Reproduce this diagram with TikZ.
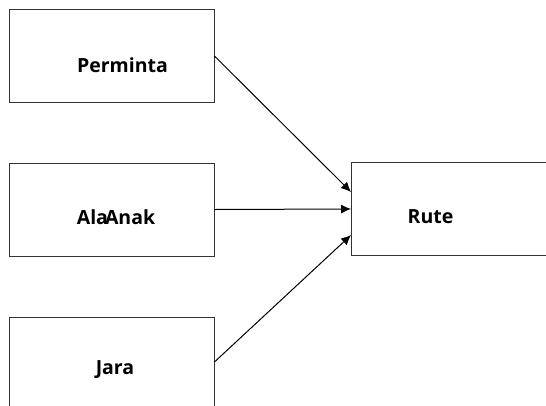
\documentclass[tikz,border=0pt]{standalone}
\usepackage{fontspec}
\setmainfont{Open Sans}
\usetikzlibrary{calc,arrows.meta}
\begin{document}
\begin{tikzpicture}[x=1pt,y=-1pt,
  box/.style={draw=black!80,line width=0.9pt,minimum width=205pt,minimum height=93pt,inner sep=0pt},
  lbl/.style={font=\fontsize{19.5}{22}\selectfont\bfseries,inner sep=0pt},
  conn/.style={draw=black,line width=1pt,-{Latex[length=10pt,width=9pt]}}]
\useasboundingbox (0,0) rectangle (546,405);
\clip (0,0) rectangle (546,405);
\node[box] (perm) at (111.5,56) {};
\node[box] (ala) at (111.5,209.5) {};
\node[box] (jara) at (111.5,364) {};
\node[box] (rute) at (454,209) {};
\node[lbl] (tperm) at (122.5,65) {Perminta};
\node[lbl] (tala) at (116,217) {Ala\kern-3pt Anak};
\node[lbl] (tjara) at (115,370) {Jara};
\node[lbl] (trute) at (430.5,217) {Rute};
\draw[conn] (perm.east) -- ($(rute.west)+(0,-17)$);
\draw[conn] (ala.east) -- (rute.west);
\draw[conn] ($(jara.east)+(0,-2)$) -- ($(rute.west)+(0,26)$);
\end{tikzpicture}
\end{document}
